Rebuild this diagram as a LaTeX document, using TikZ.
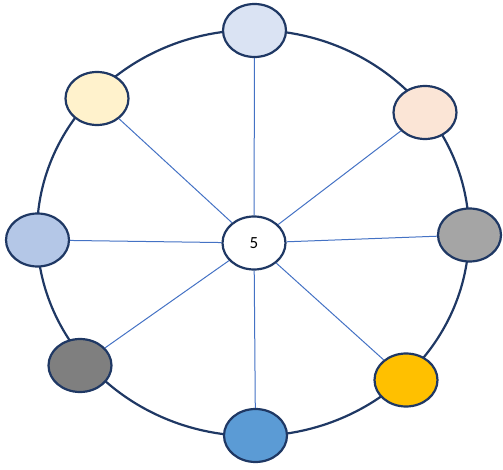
\documentclass[tikz,border=0pt]{standalone}
\usepackage{fontspec}
\setmainfont{Carlito}
\usetikzlibrary{shapes.geometric}
\definecolor{navy}{HTML}{1F3864}
\definecolor{spoke}{HTML}{4472C4}
\tikzset{
  ring/.style={draw=navy, line width=2.2pt},
  bub/.style={ellipse, draw=navy, line width=2.2pt, minimum width=63pt, minimum height=53pt, inner sep=0pt},
  spk/.style={draw=spoke, line width=1pt},
}
\begin{document}
\begin{tikzpicture}[x=1pt,y=-1pt]
\useasboundingbox (0,0) rectangle (503,470);
\draw[ring] (253,233) ellipse [x radius=216, y radius=203];
\node[bub, fill=white] (c) at (254,243) {\fontsize{17}{20}\selectfont 5};
\node[bub, fill={rgb,255:red,218;green,227;blue,243}] (t) at (254.5,30.5) {};
\node[bub, fill={rgb,255:red,251;green,229;blue,214}] (tr) at (425,112.5) {};
\node[bub, fill={rgb,255:red,165;green,165;blue,165}] (r) at (469.5,235) {};
\node[bub, fill={rgb,255:red,255;green,192;blue,0}] (br) at (406,380) {};
\node[bub, fill={rgb,255:red,91;green,155;blue,213}] (b) at (255.5,435.5) {};
\node[bub, fill={rgb,255:red,127;green,127;blue,127}] (bl) at (80,365.5) {};
\node[bub, fill={rgb,255:red,180;green,199;blue,231}] (l) at (37.5,240) {};
\node[bub, fill={rgb,255:red,255;green,242;blue,204}] (tl) at (97,98.5) {};
\foreach \n in {t,tr,r,br,b,bl,l,tl}{\draw[spk] (c) -- (\n);}
\end{tikzpicture}
\end{document}
